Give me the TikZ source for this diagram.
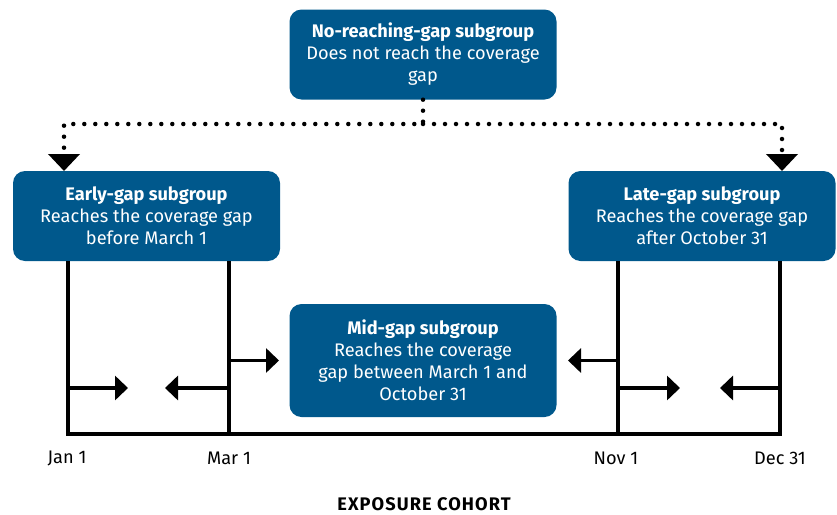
\documentclass[tikz,border=0pt]{standalone}
\usepackage{fontspec}
\setmainfont{Fira Sans}
\usetikzlibrary{arrows.meta,positioning,calc}
\definecolor{cohortblue}{RGB}{0,88,140}

\begin{document}
\begin{tikzpicture}[x=1pt,y=-1pt,
        group/.style={rectangle, rounded corners=12pt, fill=cohortblue, text=white, align=center,
            minimum width=267pt, minimum height=90pt, inner sep=0pt, font=\fontsize{18.2}{22}\selectfont},
        axis/.style={line width=3.3pt, line join=miter},
        move/.style={line width=3.3pt, -{Triangle[length=13pt,width=24pt]}},
        dots/.style={line width=4.5pt, line cap=round, dash pattern=on 0pt off 11pt,
            -{Triangle[length=17pt,width=31pt]}},
        day/.style={font=\fontsize{18.2}{20}\selectfont}
    ]
    \useasboundingbox (0,0) rectangle (837,514);

    % subgroups
    \node[group] (nogap) at (423,54.5) {\textbf{No-reaching-gap subgroup}\\Does not reach the coverage\\gap};
    \node[group] (early) at (146.5,216) {\textbf{Early-gap subgroup}\\Reaches the coverage gap\\before March 1};
    \node[group] (late) at (702,216) {\textbf{Late-gap subgroup}\\Reaches the coverage gap\\after October 31};
    \node[group, minimum height=113pt] (mid) at (423,360.5) {\textbf{Mid-gap subgroup}\\Reaches the coverage\\gap between March 1 and\\October 31};

    % dotted split
    \coordinate (split) at (423,124);
    \coordinate (earlyin) at (64,171);
    \coordinate (latein) at (782,171);
    \draw[dots] (nogap.south) -- (split) -| (earlyin);
    \draw[dots] (split) -| (latein);

    % exposure cohort axis
    \coordinate (jan) at (68,434);
    \coordinate (mar) at (229,434);
    \coordinate (nov) at (618,434);
    \coordinate (dec) at (780,434);
    \draw[axis] (early.south -| jan) -- (jan) -- (dec) -- (late.south -| dec);
    \draw[axis] (early.south -| mar) -- (mar);
    \draw[axis] (late.south -| nov) -- (nov);

    \draw[move] ($(jan)+(0,-46)$) -- ++(60,0);
    \draw[move] ($(mar)+(0,-46)$) -- ++(-64,0);
    \draw[move] (mid.west -| mar) -- ++(50,0);
    \draw[move] (mid.east -| nov) -- ++(-50,0);
    \draw[move] ($(nov)+(0,-46)$) -- ++(62,0);
    \draw[move] ($(dec)+(0,-46)$) -- ++(-60,0);

    \node[day] (janlabel) at ($(jan)+(-1,24)$) {Jan 1};
    \node[day] (marlabel) at ($(mar)+(0,24)$) {Mar 1};
    \node[day] (novlabel) at ($(nov)+(-2,24)$) {Nov 1};
    \node[day] (declabel) at ($(dec)+(0,24)$) {Dec 31};
    \node[font=\fontsize{18.2}{20}\selectfont\bfseries] (cohort) at (424,504) {\addfontfeatures{LetterSpace=6}EXPOSURE COHORT};
\end{tikzpicture}
\end{document}
